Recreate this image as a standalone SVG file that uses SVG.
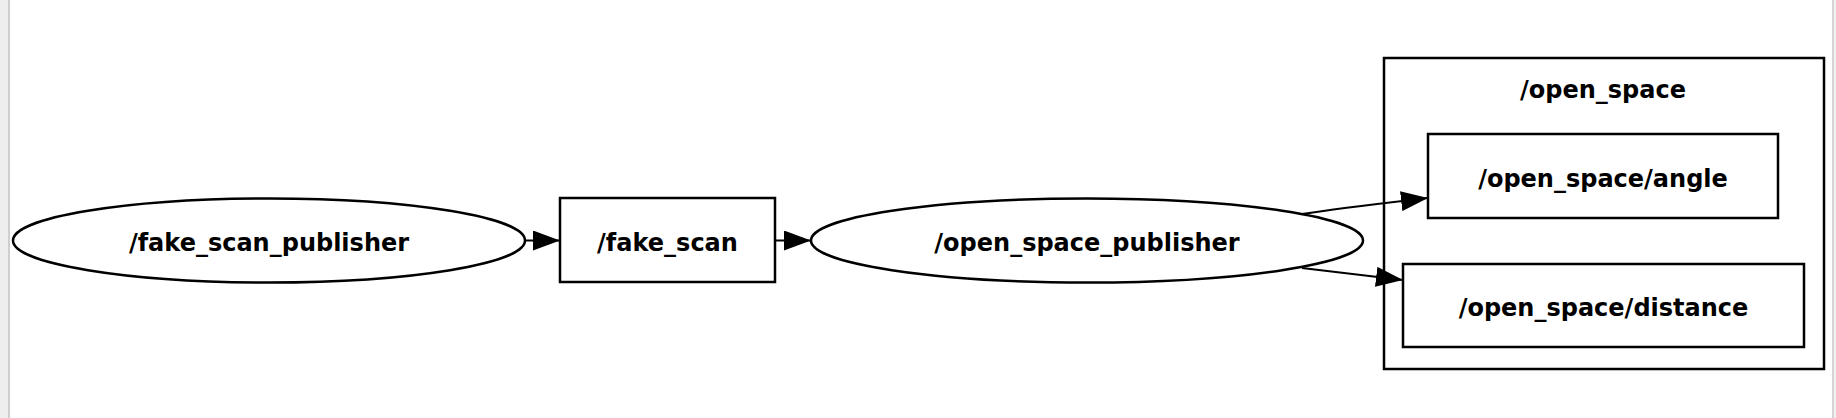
<svg xmlns="http://www.w3.org/2000/svg" width="1836" height="418" viewBox="0 0 1836 418">
<style>
.shape{fill:#ffffff;stroke:#000000;stroke-width:2.5}
.cluster{fill:none;stroke:#000000;stroke-width:2.5}
.lbl{font-family:"DejaVu Sans",Verdana,sans-serif;font-weight:bold;font-size:24px;fill:#000000;text-anchor:middle}
.edge{fill:none;stroke:#000000;stroke-width:2}
</style>
<defs>
<marker id="arrow" viewBox="0 0 27 20" refX="27" refY="10" markerWidth="27" markerHeight="20" markerUnits="userSpaceOnUse" orient="auto">
<path d="M0,0 L27,10 L0,20 Z" fill="#000000"/>
</marker>
</defs>
<rect x="0" y="0" width="1836" height="418" fill="#ffffff"/>
<rect x="0" y="0" width="8" height="418" fill="#eeeeee"/>
<rect x="8" y="0" width="2" height="418" fill="#cfcfcf"/>
<rect x="1832" y="0" width="2" height="418" fill="#d4d4d4"/>
<rect x="1834" y="0" width="2" height="418" fill="#f2f2f2"/>

<g id="cluster_open_space">
<rect class="cluster" x="1384" y="58" width="440" height="311"/>
<text class="lbl" x="1603" y="98">/open_space</text>
</g>

<g id="connectors">
<line class="edge" x1="525" y1="240.5" x2="560" y2="240.5" marker-end="url(#arrow)"/>
<line class="edge" x1="775" y1="240.5" x2="811" y2="240.5" marker-end="url(#arrow)"/>
<path class="edge" d="M1302,214 C1340,208 1385,203 1428,198" marker-end="url(#arrow)"/>
<path class="edge" d="M1302,268 C1335,272 1370,276 1403,280" marker-end="url(#arrow)"/>
</g>

<g id="node_fake_scan_publisher">
<ellipse class="shape" cx="269" cy="240.5" rx="256" ry="42"/>
<text class="lbl" x="269" y="251">/fake_scan_publisher</text>
</g>

<g id="node_fake_scan">
<rect class="shape" x="560" y="198" width="215" height="84"/>
<text class="lbl" x="667.5" y="251">/fake_scan</text>
</g>

<g id="node_open_space_publisher">
<ellipse class="shape" cx="1087" cy="240.5" rx="276" ry="42"/>
<text class="lbl" x="1087" y="251">/open_space_publisher</text>
</g>

<g id="node_open_space_angle">
<rect class="shape" x="1428" y="134" width="350" height="84"/>
<text class="lbl" x="1603" y="187">/open_space/angle</text>
</g>

<g id="node_open_space_distance">
<rect class="shape" x="1403" y="264" width="401" height="83"/>
<text class="lbl" x="1603.5" y="316">/open_space/distance</text>
</g>
</svg>
